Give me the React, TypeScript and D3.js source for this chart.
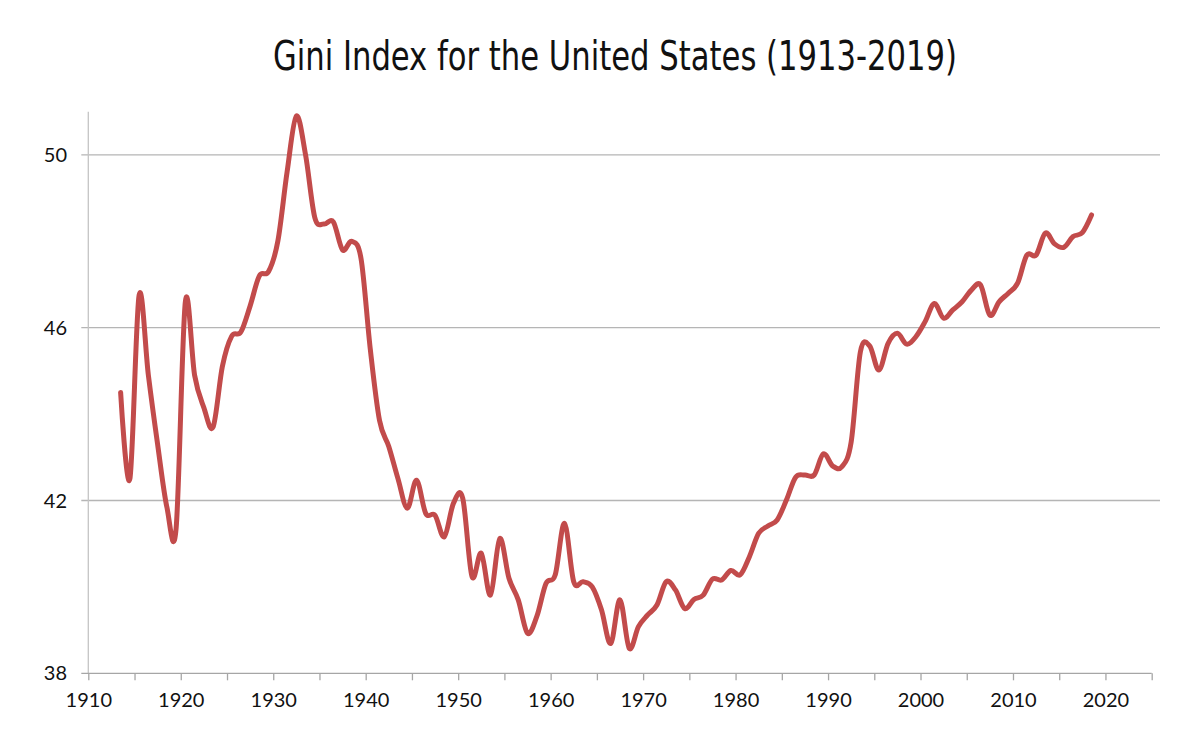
import React, { useEffect, useRef } from 'react';
import * as d3 from 'd3';

// Gini index, one value per year starting in 1913
const startYear = 1913;
const giniValues = [
  44.5, 42.5, 46.75, 44.9, 43.3, 41.85, 41.35,
  46.6, 44.9, 44.15, 43.7, 45.1, 45.8, 45.9, 46.5, 47.2, 47.3,
  48.0, 49.6, 50.9, 50.0, 48.55, 48.4, 48.45, 47.8, 48.0, 47.6,
  45.5, 43.85, 43.25, 42.5, 41.82, 42.47, 41.7, 41.66, 41.16, 41.94,
  42.05, 40.24, 40.78, 39.81, 41.12, 40.2, 39.7, 38.93, 39.31, 40.08,
  40.28, 41.47, 40.12, 40.12, 40.0, 39.47, 38.69, 39.7, 38.58, 39.08,
  39.35, 39.58, 40.12, 39.93, 39.5, 39.71, 39.81, 40.18, 40.16, 40.38,
  40.28, 40.7, 41.24, 41.41, 41.55, 42.01, 42.54, 42.59, 42.59, 43.08,
  42.8, 42.78, 43.35, 45.44, 45.58, 45.02, 45.64, 45.87, 45.62, 45.79,
  46.14, 46.56, 46.22, 46.41, 46.6, 46.87, 46.99, 46.29, 46.6, 46.8,
  47.03, 47.68, 47.68, 48.19, 47.94, 47.86, 48.11, 48.2, 48.61,
];

const yTicks = [38, 42, 46, 50];
const xTickYears = [1910, 1915, 1920, 1925, 1930, 1935, 1940, 1945, 1950, 1955, 1960, 1965,
  1970, 1975, 1980, 1985, 1990, 1995, 2000, 2005, 2010, 2015, 2020, 2025];
const xLabelYears = [1910, 1920, 1930, 1940, 1950, 1960, 1970, 1980, 1990, 2000, 2010, 2020];

const title = 'Gini Index for the United States (1913-2019)';

const App: React.FC = () => {
  const svgRef = useRef<SVGSVGElement>(null);

  useEffect(() => {
    if (!svgRef.current) return;
    const svg = d3.select(svgRef.current);
    svg.selectAll('*').remove();

    const width = 1200;
    const height = 750;
    const left = 88.3;
    const right = 1151.7;
    const top = 111.7;
    const bottom = 673.3;
    const gridRight = 1160;
    const labelFont = "Lato, 'Open Sans', sans-serif";

    svg.attr('width', width).attr('height', height);
    svg.append('rect').attr('width', width).attr('height', height).attr('fill', '#ffffff');

    // points sit at mid-year on a date axis
    const data = giniValues.map((v, i) => ({ date: new Date(startYear + i, 6, 1), value: v }));

    const x = d3.scaleTime()
      .domain([new Date(1910, 0, 1), new Date(2025, 0, 1)])
      .range([left, right]);
    const y = d3.scaleLinear().domain([38, 51]).range([bottom, top]);

    // title
    svg.append('text')
      .attr('x', 615)
      .attr('y', 70)
      .attr('text-anchor', 'middle')
      .attr('textLength', 684)
      .attr('lengthAdjust', 'spacingAndGlyphs')
      .style('font-family', "'Liberation Sans Narrow', 'DejaVu Sans Condensed', 'Roboto', sans-serif")
      .style('font-size', '40px')
      .style('fill', '#111111')
      .text(title);

    // horizontal gridlines (38 is the x axis)
    svg.append('g')
      .selectAll('line')
      .data(yTicks.filter(t => t !== 38))
      .enter()
      .append('line')
      .attr('x1', left - 7)
      .attr('x2', gridRight)
      .attr('y1', d => y(d))
      .attr('y2', d => y(d))
      .attr('stroke', '#b5b5b5')
      .attr('stroke-width', 1.3);

    // y axis line
    svg.append('line')
      .attr('x1', left).attr('x2', left)
      .attr('y1', top).attr('y2', bottom)
      .attr('stroke', '#c4c4c4')
      .attr('stroke-width', 1.3);

    // x axis
    const xAxis = d3.axisBottom(x)
      .tickValues(xTickYears.map(yr => new Date(yr, 0, 1)))
      .tickSize(7)
      .tickSizeOuter(0)
      .tickFormat(d => {
        const yr = (d as Date).getFullYear();
        return xLabelYears.includes(yr) ? String(yr) : '';
      });

    const gx = svg.append('g')
      .attr('transform', `translate(0,${bottom})`)
      .call(xAxis);
    gx.select('.domain').remove();
    gx.selectAll('line').attr('stroke', '#a6a6a6').attr('stroke-width', 1.3);
    gx.selectAll('text')
      .attr('y', 27)
      .attr('dy', '0.35em')
      .style('font-family', labelFont)
      .style('font-size', '20px')
      .style('fill', '#111111');

    svg.append('line')
      .attr('x1', left - 7).attr('x2', right)
      .attr('y1', bottom).attr('y2', bottom)
      .attr('stroke', '#a6a6a6')
      .attr('stroke-width', 1.3);

    // y labels
    svg.append('g')
      .selectAll('text')
      .data(yTicks)
      .enter()
      .append('text')
      .attr('x', 67)
      .attr('y', d => y(d))
      .attr('dy', '0.35em')
      .attr('text-anchor', 'end')
      .style('font-family', labelFont)
      .style('font-size', '20px')
      .style('fill', '#111111')
      .text(d => String(d));

    // smoothed line
    const line = d3.line<{ date: Date; value: number }>()
      .x(d => x(d.date))
      .y(d => y(d.value))
      .curve(d3.curveCardinal.tension(0));

    svg.append('path')
      .datum(data)
      .attr('d', line)
      .attr('fill', 'none')
      .attr('stroke', '#c24b4b')
      .attr('stroke-width', 5)
      .attr('stroke-linejoin', 'round')
      .attr('stroke-linecap', 'round');
  }, []);

  return (
    <div style={{ position: 'absolute', left: 0, top: 0 }}>
      <svg ref={svgRef} style={{ display: 'block' }}></svg>
    </div>
  );
};

export default App;
